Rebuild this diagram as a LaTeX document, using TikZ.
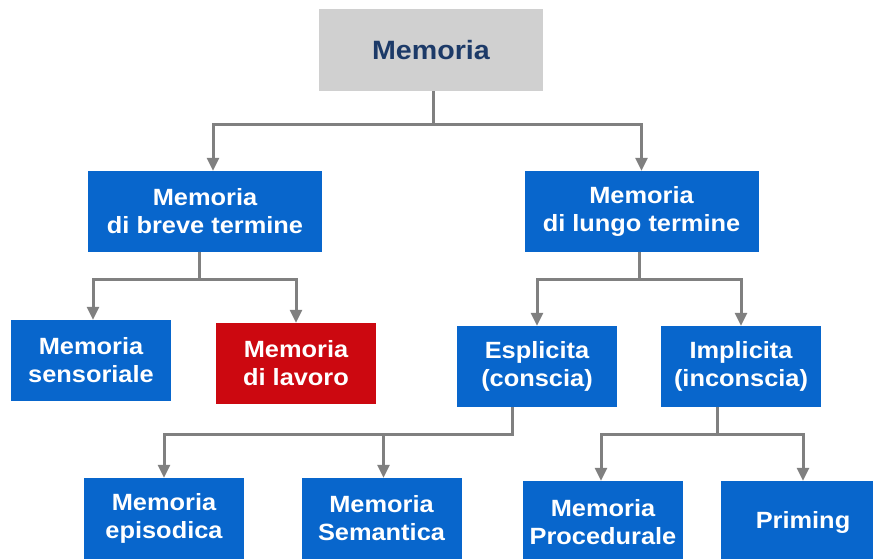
\documentclass[tikz,border=0pt]{standalone}
\usepackage{fontspec}
\setmainfont{Liberation Sans}[FakeStretch=1.08]
\usepackage{tikz}
\usetikzlibrary{positioning,arrows.meta}

\definecolor{boxblue}{RGB}{8,102,204}
\definecolor{boxred}{RGB}{204,8,16}
\definecolor{boxgray}{RGB}{208,208,208}
\definecolor{titleblue}{RGB}{28,58,104}
\definecolor{linkgray}{RGB}{128,128,128}

\begin{document}
\begin{tikzpicture}[x=1pt,y=-1pt]
\tikzset{box/.style={rectangle,inner sep=0pt,align=center,minimum width=160pt,minimum height=81pt,
  font=\fontsize{23.5}{28}\selectfont\bfseries,text=white,fill=boxblue}}
\tikzset{redbox/.style={box,fill=boxred}}
\tikzset{topbox/.style={box,fill=boxgray,text=titleblue,minimum width=224pt,minimum height=82pt,
  font=\fontsize{26.5}{30}\selectfont\bfseries}}
\tikzset{link/.style={draw=linkgray,line width=3pt,-{Triangle[length=13pt,width=12pt]}}}
\useasboundingbox (0,0) rectangle (873,559);

% levels
\node[topbox] (root) at (431,50) {Memoria};
\node[box,minimum width=234pt] (breve) at (205,211.5) {Memoria\\di breve termine};
\node[box,minimum width=234pt] (lungo) at (641.5,211.5) {Memoria\\di lungo termine};
\node[box] (sens) at (91,360.5) {Memoria\\sensoriale};
\node[redbox] (lavoro) at (296,363.5) {Memoria\\di lavoro};
\node[box] (espl) at (537,366.5) {Esplicita\\(conscia)};
\node[box] (impl) at (741,366.5) {Implicita\\(inconscia)};
\node[box] (epis) at (164,518.5) {Memoria\\episodica};
\node[box] (sem) at (381.5,518.5) {Memoria\\Semantica};
\node[box,minimum height=82pt] (proc) at (603,522) {Memoria\\Procedurale};
\node[box,minimum height=82pt,minimum width=164pt] (prim) at (803,522) {Priming};

% connectors
\draw[link] ([xshift=2pt]root.south) -- ++(0,33) -| ([xshift=8pt]breve.north);
\draw[link] ([xshift=2pt]root.south) -- ++(0,33) -| (lungo.north);
\draw[link] ([xshift=-6pt]breve.south) -- ++(0,27) -| ([xshift=2pt]sens.north);
\draw[link] ([xshift=-6pt]breve.south) -- ++(0,27) -| (lavoro.north);
\draw[link] ([xshift=-2pt]lungo.south) -- ++(0,27) -| (espl.north);
\draw[link] ([xshift=-2pt]lungo.south) -- ++(0,27) -| (impl.north);
\draw[link] ([xshift=-25pt]espl.south) -- ++(0,27) -| (epis.north);
\draw[link] ([xshift=-25pt]espl.south) -- ++(0,27) -| ([xshift=2pt]sem.north);
\draw[link] ([xshift=-24pt]impl.south) -- ++(0,27) -| ([xshift=-2pt]proc.north);
\draw[link] ([xshift=-24pt]impl.south) -- ++(0,27) -| (prim.north);
\end{tikzpicture}
\end{document}
